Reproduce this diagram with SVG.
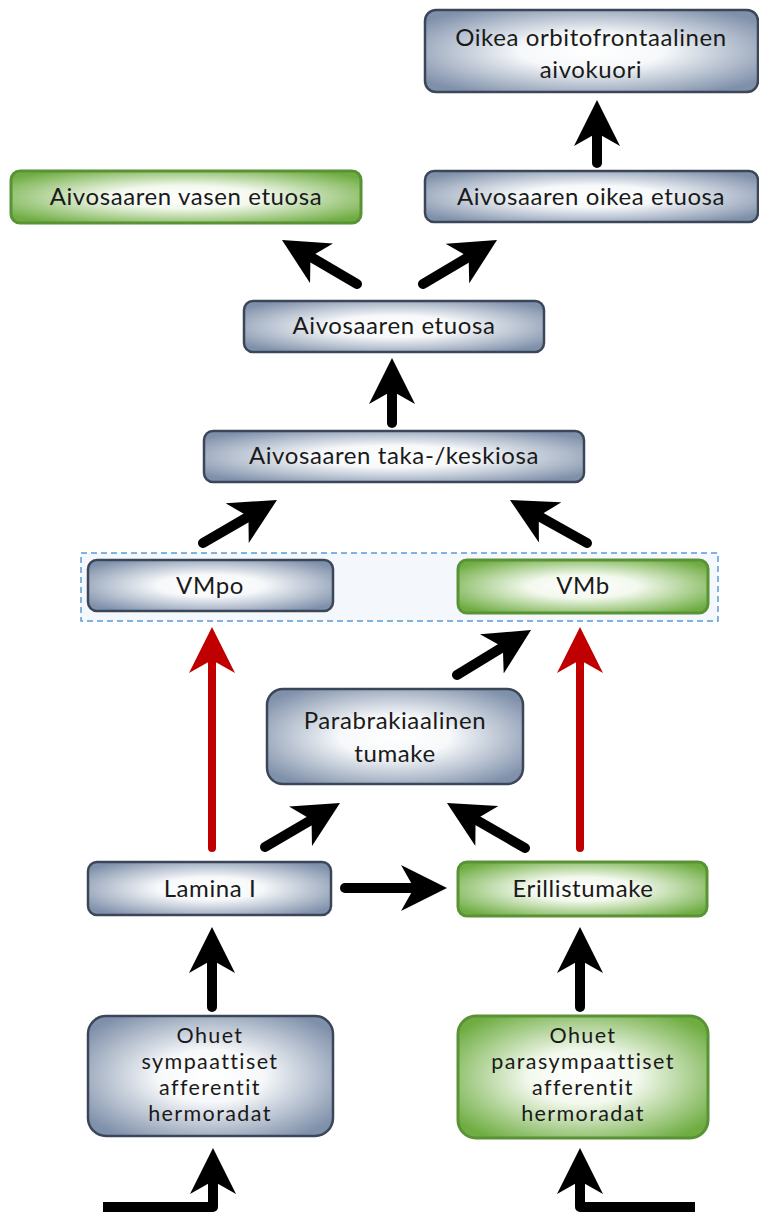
<svg xmlns="http://www.w3.org/2000/svg" width="759" height="1212" viewBox="0 0 759 1212">
<defs>
<radialGradient id="gb" cx="0.5" cy="0.5" r="0.62">
<stop offset="0" stop-color="#ffffff"/>
<stop offset="0.35" stop-color="#f6f8fa"/>
<stop offset="1" stop-color="#7f90aa"/>
</radialGradient>
<radialGradient id="gg" cx="0.5" cy="0.5" r="0.62">
<stop offset="0" stop-color="#ffffff"/>
<stop offset="0.35" stop-color="#f3f9ee"/>
<stop offset="1" stop-color="#6fad42"/>
</radialGradient>
<marker id="ah" markerUnits="userSpaceOnUse" markerWidth="46" markerHeight="46" refX="14" refY="23" orient="auto" viewBox="0 0 46 46">
<path d="M0,0 L46,23 L0,46 L13,23 Z" fill="#000"/>
</marker>
<marker id="ahr" markerUnits="userSpaceOnUse" markerWidth="46" markerHeight="46" refX="14" refY="23" orient="auto" viewBox="0 0 46 46">
<path d="M0,0 L46,23 L0,46 L13,23 Z" fill="#c00000"/>
</marker>
</defs>
<style>
.b{fill:url(#gb);stroke:#3b4659;stroke-width:2.5}
.g{fill:url(#gg);stroke:#5a9236;stroke-width:3}
text{font-family:Lato,"Open Sans","Liberation Sans",sans-serif;font-size:24px;letter-spacing:0.6px;fill:#1a1a1a;text-anchor:middle}
text.s{font-size:21.5px;letter-spacing:1.4px}
.k{fill:none;stroke:#000;stroke-width:10;stroke-linecap:round;marker-end:url(#ah)}
.kb{fill:none;stroke:#000;stroke-width:10;stroke-linecap:butt;stroke-linejoin:round;marker-end:url(#ah)}
.r{fill:none;stroke:#c00000;stroke-width:8;stroke-linecap:round;marker-end:url(#ahr)}
</style>
<rect width="759" height="1212" fill="#fff"/>
<g id="container">
<rect x="81" y="553" width="637" height="68" fill="#f4f8fc" stroke="#5b9bd5" stroke-width="1.5" stroke-dasharray="6 4"/>
</g>
<g id="n-orbito"><rect class="b" x="425" y="10" width="333" height="82" rx="11"/><text x="591" y="46">Oikea orbitofrontaalinen</text><text x="591" y="78">aivokuori</text></g>
<g id="n-oikea"><rect class="b" x="425" y="171" width="333" height="51" rx="9"/><text x="591" y="205">Aivosaaren oikea etuosa</text></g>
<g id="n-vasen"><rect class="g" x="11" y="171" width="350" height="52" rx="9"/><text x="186" y="205">Aivosaaren vasen etuosa</text></g>
<g id="n-etuosa"><rect class="b" x="244" y="301" width="300" height="51" rx="9"/><text x="394" y="334">Aivosaaren etuosa</text></g>
<g id="n-taka"><rect class="b" x="204" y="431" width="380" height="51" rx="9"/><text x="394" y="464">Aivosaaren taka-/keskiosa</text></g>
<g id="n-vmpo"><rect class="b" x="88" y="560" width="245" height="51" rx="9"/><text x="210" y="594">VMpo</text></g>
<g id="n-vmb"><rect class="g" x="458" y="560" width="250" height="53" rx="9"/><text x="583" y="594">VMb</text></g>
<g id="n-para"><rect class="b" x="267" y="689" width="256" height="95" rx="16"/><text x="395" y="729">Parabrakiaalinen</text><text x="395" y="762">tumake</text></g>
<g id="n-lamina"><rect class="b" x="88" y="862" width="243" height="53" rx="9"/><text x="210" y="897">Lamina I</text></g>
<g id="n-eril"><rect class="g" x="458" y="862" width="249" height="54" rx="9"/><text x="583" y="897">Erillistumake</text></g>
<g id="n-symp"><rect class="b" x="88" y="1016" width="245" height="120" rx="18"/><text class="s" x="210" y="1043">Ohuet</text><text class="s" x="210" y="1069">sympaattiset</text><text class="s" x="210" y="1095">afferentit</text><text class="s" x="210" y="1121">hermoradat</text></g>
<g id="n-para2"><rect class="g" x="458" y="1016" width="250" height="122" rx="18"/><text class="s" x="583" y="1043">Ohuet</text><text class="s" x="583" y="1069">parasympaattiset</text><text class="s" x="583" y="1095">afferentit</text><text class="s" x="583" y="1121">hermoradat</text></g>
<g id="connectors">
<line class="k" x1="597" y1="163" x2="597" y2="132"/>
<line class="k" x1="357" y1="284" x2="309.6" y2="256.2"/>
<line class="k" x1="423" y1="284" x2="469.5" y2="256.4"/>
<line class="k" x1="392" y1="423" x2="392" y2="390"/>
<line class="k" x1="203" y1="543" x2="249.3" y2="516.1"/>
<line class="k" x1="587" y1="543" x2="537.9" y2="515.6"/>
<line class="k" x1="457" y1="675" x2="503.7" y2="646.6"/>
<line class="k" x1="265" y1="847" x2="312.4" y2="819.2"/>
<line class="k" x1="525" y1="848" x2="474.7" y2="819"/>
<line class="k" x1="345" y1="888" x2="415" y2="888"/>
<line class="k" x1="212" y1="1007" x2="212" y2="959"/>
<line class="k" x1="580" y1="1007" x2="580" y2="959"/>
<line class="r" x1="212" y1="848" x2="212" y2="659"/>
<line class="r" x1="580" y1="848" x2="580" y2="659"/>
<path class="kb" d="M103,1207 H213 V1180"/>
<path class="kb" d="M695,1207 H580 V1180"/>
</g>
</svg>
